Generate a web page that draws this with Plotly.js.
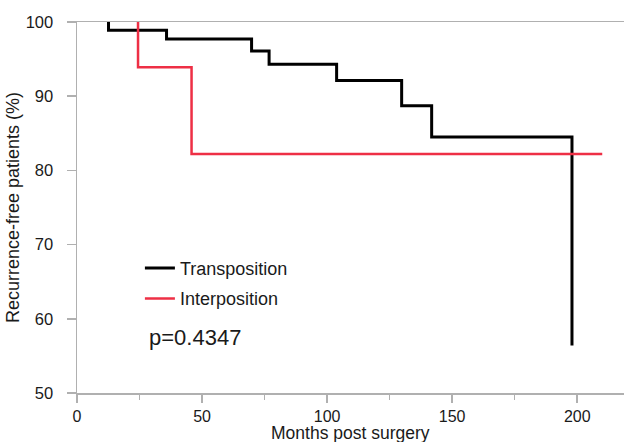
<!DOCTYPE html>
<html>
<head>
<meta charset="utf-8">
<script src="https://cdn.plot.ly/plotly-3.0.1.min.js"></script>
<style>html,body{margin:0;padding:0;background:#fff;}#chart{width:624px;height:442px;}</style>
</head>
<body>
<div id="chart"></div>
<script>
// Kaplan-Meier data (months, % recurrence-free after each event)
var transTimes = [12.6, 35.8, 69.8, 76.8, 103.8, 129.8, 141.8, 197.9];
var transSurv  = [98.9, 97.7, 96.1, 94.3, 92.1, 88.7, 84.5, 56.4];
var interTimes = [24.4, 45.8];
var interSurv  = [93.9, 82.2];
var interLastFollowUp = 210;
var seriesNames = ["Transposition", "Interposition"];
var pValueText = "p=0.4347";
var xTitle = "Months post surgery";
var yTitle = "Recurrence-free patients (%)";
var xTickVals = [0, 50, 100, 150, 200];
var yTickVals = [50, 60, 70, 80, 90, 100];

function kmCurve(times, surv, endTime) {
  var x = [times[0]], y = [100];
  for (var i = 0; i < times.length; i++) { x.push(times[i]); y.push(surv[i]); }
  if (endTime !== undefined) { x.push(endTime); y.push(surv[surv.length - 1]); }
  return {x: x, y: y};
}
var t = kmCurve(transTimes, transSurv);
var r = kmCurve(interTimes, interSurv, interLastFollowUp);

var font = "Liberation Sans, Arial, Helvetica, sans-serif";
var data = [
  {x: t.x, y: t.y, type: "scatter", mode: "lines", line: {shape: "hv", color: "#000000", width: 3},
   name: seriesNames[0], legendgroup: "a", cliponaxis: true},
  {x: r.x, y: r.y, type: "scatter", mode: "lines", line: {shape: "hv", color: "#ee2f45", width: 2.5},
   name: seriesNames[1], legendgroup: "b", cliponaxis: true}
];
var layout = {
  width: 624, height: 442,
  margin: {l: 77, r: 0, t: 22, b: 49, pad: 0},
  paper_bgcolor: "#ffffff", plot_bgcolor: "#ffffff",
  font: {family: font, size: 17, color: "#1a1a1a"},
  showlegend: true,
  legend: {x: 0.115, y: 0.386, xanchor: "left", yanchor: "top", bgcolor: "rgba(0,0,0,0)",
           font: {size: 18, family: font, color: "#1a1a1a"}, tracegroupgap: 4, traceorder: "grouped"},
  xaxis: {range: [0, 218.7], tickvals: xTickVals, ticks: "outside", ticklen: 8, tickcolor: "#b0b0b0", tickwidth: 1.5,
          showline: true, linecolor: "#b0b0b0", linewidth: 1.5, mirror: true, showgrid: false, zeroline: false,
          minor: {dtick: 25, ticks: "outside", ticklen: 5, tickcolor: "#b0b0b0", tickwidth: 1.5},
          tickfont: {size: 16}},
  yaxis: {range: [50, 100], tickvals: yTickVals, ticks: "outside", ticklen: 9, tickcolor: "#b0b0b0", tickwidth: 1.5,
          showline: true, linecolor: "#b0b0b0", linewidth: 1.5, showgrid: false, zeroline: false,
          tickfont: {size: 16.5}, ticklabelstandoff: 10,
          title: {text: yTitle, font: {size: 18}, standoff: 1}},
  annotations: [
    {xref: "paper", yref: "paper", x: 0.5, y: 0.15, xanchor: "left", yanchor: "middle", visible: false,
     text: "", showarrow: false},
    {xref: "paper", yref: "paper", x: 0.128, y: 0.15, xanchor: "left", yanchor: "middle",
     text: pValueText, showarrow: false, font: {size: 22, family: font, color: "#1a1a1a"}},
    {xref: "paper", yref: "paper", x: 0.5, y: 0, yshift: -39.5, xanchor: "center", yanchor: "middle",
     text: xTitle, showarrow: false, font: {size: 17.5, family: font, color: "#1a1a1a"}}
  ]
};
Plotly.newPlot("chart", data, layout, {staticPlot: true, displayModeBar: false});
</script>
</body>
</html>
